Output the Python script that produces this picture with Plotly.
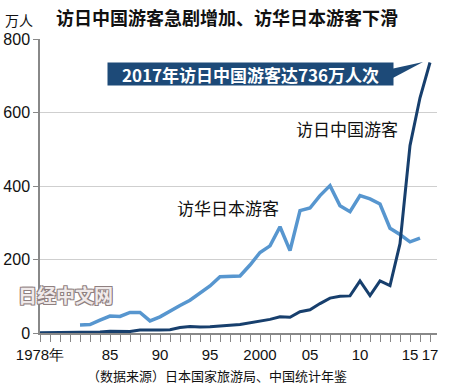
import plotly.graph_objects as go

years_cn = list(range(1978, 2018))
china_to_japan = [1, 1, 1, 1, 1, 2, 3, 5, 4, 4,
                  8, 7, 8, 9, 15, 18, 16, 17, 20, 21,
                  23, 27, 33, 37, 44, 43, 58, 63, 80, 95,
                  100, 101, 142, 102, 142, 129, 243, 510, 640, 736]

years_jp = list(range(1982, 2017))
japan_to_china = [22, 23, 35, 46, 45, 56, 56, 33, 44, 60,
                  75, 89, 110, 128, 153, 155, 155, 185, 219, 237,
                  289, 224, 333, 340, 374, 401, 346, 330, 374, 365,
                  351, 285, 268, 248, 258]

tick_vals = [1978, 1985, 1990, 1995, 2000, 2005, 2010, 2015, 2017]
tick_text = ["1978年", "85", "90", "95", "2000", "05", "10", "15", "17"]
y_ticks = [0, 200, 400, 600, 800]

DARK = "#173f6d"
LIGHT = "#5796cf"
BOX = "#1d4a78"
NUM_FONT = "Liberation Sans, Arial, sans-serif"
CJK = "Noto Sans CJK SC, sans-serif"

L, R, T, B = 40, 13, 39, 55
W, H = 450, 388
PW, PH = W - L - R, H - T - B


def px(xp, yp):
    return (xp - L) / PW, (H - B - yp) / PH


fig = go.Figure()
fig.add_trace(go.Scatter(x=years_jp, y=japan_to_china, mode="lines",
                         line=dict(color=LIGHT, width=3.5), hoverinfo="skip"))
fig.add_trace(go.Scatter(x=years_cn, y=china_to_japan, mode="lines",
                         line=dict(color=DARK, width=3), hoverinfo="skip"))

fig.update_layout(
    width=W, height=H,
    margin=dict(l=L, r=R, t=T, b=B, autoexpand=False),
    paper_bgcolor="white", plot_bgcolor="white",
    showlegend=False,
    xaxis=dict(range=[1978, 2017.7], tickmode="array", tickvals=tick_vals, ticktext=tick_text,
               tickangle=0, automargin=False,
               ticks="outside", ticklen=7, tickcolor="#888", tickwidth=1,
               minor=dict(dtick=1, tick0=1978, ticks="outside", ticklen=7, tickcolor="#888", showgrid=False),
               showline=True, linecolor="#888", linewidth=1.5, showgrid=False, zeroline=False,
               tickfont=dict(family=NUM_FONT, size=15, color="#111")),
    yaxis=dict(range=[0, 800], tickmode="array", tickvals=y_ticks, automargin=False,
               ticks="outside", ticklen=5, tickcolor="#888",
               showline=True, linecolor="#888", linewidth=1.5,
               showgrid=True, gridcolor="#cfcfcf", gridwidth=1, zeroline=False,
               tickfont=dict(family=NUM_FONT, size=16, color="#111")),
)

# callout wedge
x0, y0 = px(391, 69)
x1, y1 = px(423, 62)
x2, y2 = px(391, 79)
fig.add_shape(type="path", xref="paper", yref="paper",
              path=f"M {x0} {y0} L {x1} {y1} L {x2} {y2} Z",
              fillcolor=BOX, line=dict(width=0), layer="above")


def note(text, xp, yp, **kw):
    ax, ay = px(xp, yp)
    fig.add_annotation(text=text, x=ax, y=ay, xref="paper", yref="paper",
                       xanchor="center", yanchor="middle", showarrow=False, **kw)


note("2017年访日中国游客达736万人次", 250.5, 74, bgcolor=BOX, width=283, height=20, borderpad=1,
     font=dict(family=CJK, size=17, color="white", weight="bold"))
note("访日中国游客", 347, 128, font=dict(family=CJK, size=17, color="#111"))
note("访华日本游客", 228, 207, font=dict(family=CJK, size=17, color="#111"))
note("日经中文网", 65, 294,
     font=dict(family=CJK, size=19, color="#f0eaea", weight="bold",
               shadow="-1px -1px 0 #8f8080, 1px -1px 0 #8f8080, -1px 1px 0 #8f8080, 1px 1px 0 #8f8080"))
note("访日中国游客急剧增加、访华日本游客下滑", 227, 17,
     font=dict(family=CJK, size=18, color="#111", weight="bold"))
note("万人", 19, 20, font=dict(family=CJK, size=14, color="#111"))
note("（数据来源）日本国家旅游局、中国统计年鉴", 217, 375, font=dict(family=CJK, size=13, color="#111"))

fig.write_html("out.html", config={"displayModeBar": False},
               post_script="document.body.style.margin='0';")
